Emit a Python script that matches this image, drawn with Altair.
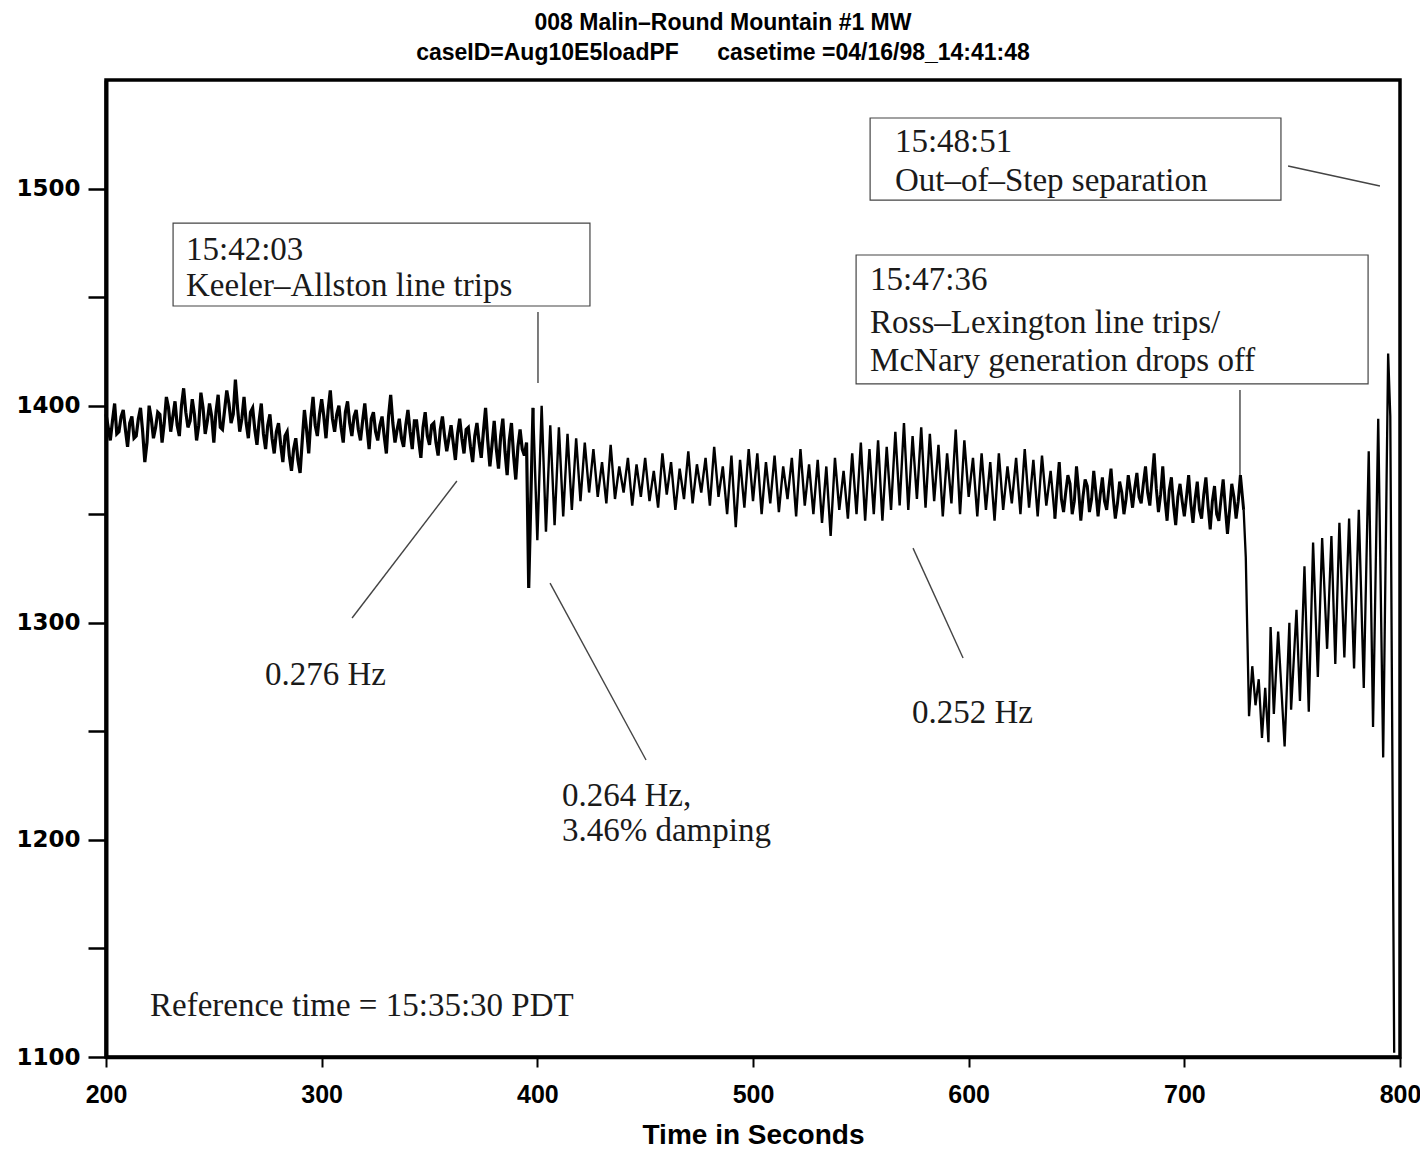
import altair as alt
import pandas as pd

# ---------------- data ----------------
T0 = 200          # first sample time (s)
DT = 2            # sample spacing for the pre-disturbance record (s)
MW_MAIN = [
    1396, 1384, 1401, 1388, 1398, 1381, 1395, 1386, 1399, 1374,
    1400, 1385, 1397, 1383, 1404, 1388, 1402, 1386, 1408, 1390,
    1403, 1384, 1406, 1387, 1401, 1383, 1405, 1389, 1407, 1392,
    1412, 1388, 1404, 1385, 1399, 1382, 1401, 1380, 1396, 1378,
    1392, 1374, 1388, 1370, 1385, 1369, 1398, 1378, 1404, 1386,
    1403, 1385, 1407, 1388, 1400, 1383, 1402, 1386, 1398, 1384,
    1401, 1380, 1397, 1384, 1395, 1378, 1405, 1383, 1394, 1381,
    1398, 1380, 1393, 1376, 1397, 1382, 1392, 1377, 1395, 1379,
    1391, 1375, 1394, 1378, 1390, 1374, 1392, 1376, 1399, 1372,
    1393, 1371, 1394, 1368, 1392, 1366, 1389, 1377, 1316, 1399,
    1338, 1400, 1342, 1391, 1345, 1390, 1349, 1387, 1352, 1385,
    1356, 1383, 1360, 1380, 1358, 1374, 1355, 1382, 1357, 1372,
    1360, 1376, 1354, 1373, 1358, 1376, 1356, 1370, 1353, 1378,
    1359, 1374, 1352, 1371, 1357, 1379, 1355, 1373, 1360, 1376,
    1354, 1381, 1358, 1372, 1350, 1377, 1344, 1375, 1353, 1380,
    1356, 1378, 1350, 1374, 1355, 1377, 1351, 1372, 1357, 1376,
    1349, 1380, 1354, 1373, 1350, 1375, 1346, 1372, 1340, 1376,
    1352, 1370, 1348, 1378, 1350, 1383, 1347, 1380, 1350, 1384,
    1347, 1381, 1352, 1388, 1354, 1392, 1352, 1386, 1357, 1390,
    1353, 1387, 1356, 1382, 1349, 1378, 1355, 1389, 1350, 1384,
    1358, 1376, 1349, 1378, 1352, 1374, 1347, 1378, 1352, 1372,
    1355, 1376, 1350, 1380, 1353, 1375, 1349, 1377, 1354, 1370,
    1348, 1374, 1351, 1368, 1350, 1372, 1347, 1366, 1351, 1370,
    1349, 1367, 1352, 1371, 1348, 1365, 1350, 1368, 1353, 1369,
    1355, 1372, 1354, 1378, 1351, 1372, 1347, 1367, 1345, 1364,
    1349, 1368, 1346, 1365, 1348, 1367, 1343, 1363, 1347, 1366,
    1341, 1364, 1348, 1368,
]
# in-between (odd second) readings of the noisy stretches
T_ODD_A0 = 201
MW_ODD_A = [
    1390, 1393, 1387, 1395, 1389, 1392, 1385, 1394, 1388, 1383,
    1394, 1390, 1396, 1392, 1399, 1395, 1391, 1400, 1397, 1393,
    1396, 1391, 1399, 1393, 1395, 1397, 1390, 1398, 1401, 1396,
    1399, 1394, 1392, 1397, 1389, 1393, 1387, 1391, 1385, 1388,
    1382, 1386, 1377, 1380, 1375, 1384, 1389, 1394, 1391, 1396,
    1395, 1398, 1394, 1396, 1390, 1397, 1392, 1395, 1389, 1393,
    1390, 1394, 1388, 1391, 1386, 1395, 1392, 1389, 1385, 1391,
    1388, 1393, 1384, 1390, 1386, 1391, 1383, 1389, 1386, 1385,
    1383, 1387, 1385, 1389, 1381, 1386, 1383, 1388, 1384, 1382,
    1380, 1386, 1379, 1384, 1377, 1381, 1380, 1383,
]
T_ODD_B0 = 641
MW_ODD_B = [
    1362, 1357, 1360, 1364, 1356, 1361, 1358, 1363, 1357, 1360,
    1359, 1356, 1362, 1358, 1355, 1360, 1357, 1361, 1362, 1358,
    1364, 1360, 1366, 1362, 1359, 1357, 1361, 1354, 1358, 1356,
    1358, 1355, 1357, 1352, 1359, 1354, 1356, 1350, 1357, 1353,
    1352, 1358, 1356,
]
T_TRANSIENT = [727.5, 728.5, 729.0, 730.0, 731.5, 733.0, 734.5, 736.0, 737.5,
               739.0, 740.0, 741.5, 743.5, 746.5, 748.7, 749.5, 752.0, 753.6,
               755.7, 757.7, 759.7, 761.9, 763.9, 766.2, 768.2, 770.0, 771.9,
               774.2, 776.4, 778.7, 780.9, 783.2, 785.5, 787.5, 789.9, 792.2,
               794.5, 795.5, 797.3]
MW_TRANSIENT = [1352, 1330, 1305, 1257, 1280, 1262, 1274, 1247, 1270,
                1245, 1298, 1258, 1296, 1243, 1300, 1260, 1306, 1264,
                1326, 1259, 1337, 1275, 1339, 1288, 1340, 1281, 1346,
                1284, 1348, 1279, 1352, 1270, 1379, 1252, 1394, 1238,
                1424, 1395, 1102]

# stretches of the trace and their ink weight (start, end, stroke width)
SEG_START = [200, 398, 640, 727.5]
SEG_END = [398, 640, 727.5, 800]
SEG_WIDTH = [3.2, 2.4, 3.0, 2.3]

# annotation boxes (data coordinates)
BOX_X1 = [231.1, 554.3, 547.8]
BOX_X2 = [424.4, 744.8, 785.2]
BOX_Y1 = [1484.1, 1532.5, 1469.4]
BOX_Y2 = [1445.9, 1494.7, 1410.0]

# annotation texts
TXT_LABEL = ["15:42:03", "Keeler\u2013Allston line trips",
             "15:48:51", "Out\u2013of\u2013Step separation",
             "15:47:36", "Ross\u2013Lexington line trips/", "McNary generation drops off",
             "0.276 Hz", "0.264 Hz,", "3.46% damping", "0.252 Hz",
             "Reference time = 15:35:30 PDT"]
TXT_X = [237.1, 237.1, 565.8, 565.8, 554.3, 554.3, 554.3,
         273.7, 411.4, 411.4, 573.7, 220.4]
TXT_Y = [1471.7, 1455.1, 1521.4, 1503.5, 1457.9, 1438.1, 1420.6,
         1275.9, 1220.2, 1204.1, 1258.4, 1123.5]

# leader lines
LEAD_X1 = [400.3, 748.1, 725.8, 314.1, 405.9, 574.2]
LEAD_Y1 = [1443.1, 1510.4, 1407.2, 1302.2, 1318.3, 1334.4]
LEAD_X2 = [400.3, 790.7, 725.8, 362.7, 450.4, 597.4]
LEAD_Y2 = [1410.4, 1501.2, 1368.1, 1365.3, 1236.8, 1283.8]

X_TICKS = [200, 300, 400, 500, 600, 700, 800]
Y_TICKS = [1100, 1150, 1200, 1250, 1300, 1350, 1400, 1450, 1500]

# ---------------- tables ----------------
times = ([T0 + DT * i for i in range(len(MW_MAIN))]
         + [T_ODD_A0 + 2 * i for i in range(len(MW_ODD_A))]
         + [T_ODD_B0 + 2 * i for i in range(len(MW_ODD_B))]
         + T_TRANSIENT)
values = MW_MAIN + MW_ODD_A + MW_ODD_B + MW_TRANSIENT
full = pd.DataFrame({"t": times, "mw": values}).sort_values("t").reset_index(drop=True)

parts = []
for k, (a, b, w) in enumerate(zip(SEG_START, SEG_END, SEG_WIDTH)):
    p = full[(full["t"] >= a) & (full["t"] <= b)].copy()
    p["seg"] = k
    p["w"] = w
    parts.append(p)
signal = pd.concat(parts, ignore_index=True)

boxes = pd.DataFrame({"x": BOX_X1, "x2": BOX_X2, "y": BOX_Y1, "y2": BOX_Y2})
texts = pd.DataFrame({"x": TXT_X, "y": TXT_Y, "label": TXT_LABEL})
leads = pd.DataFrame({"x": LEAD_X1, "x2": LEAD_X2, "y": LEAD_Y1, "y2": LEAD_Y2})

xs = alt.Scale(domain=[200, 800], nice=False, zero=False)
ys = alt.Scale(domain=[1100, 1550], nice=False, zero=False)

x_axis = alt.Axis(values=X_TICKS, title="Time in Seconds", grid=False,
                  tickSize=10, tickWidth=2, tickColor="black",
                  domainColor="black", domainWidth=3.5,
                  labelFont="Liberation Sans", labelFontWeight="bold",
                  labelFontSize=25, labelColor="black", labelPadding=15,
                  labelFlush=False,
                  titleFont="Liberation Sans", titleFontWeight="bold",
                  titleFontSize=28, titleColor="black", titlePadding=14)
y_axis = alt.Axis(values=Y_TICKS, title=None, grid=False,
                  labelExpr="datum.value % 100 == 0 ? datum.label : ''",
                  format="d",
                  tickSize=18, tickWidth=2.5, tickColor="black",
                  domainColor="black", domainWidth=4,
                  labelFont="DejaVu Sans", labelFontWeight="bold",
                  labelFontSize=23, labelColor="black", labelPadding=8,
                  labelFlush=False)

line = alt.Chart(signal).mark_line(color="black", strokeJoin="miter").encode(
    x=alt.X("t:Q", scale=xs, axis=x_axis),
    y=alt.Y("mw:Q", scale=ys, axis=y_axis),
    detail="seg:N",
    size=alt.Size("w:Q", scale=None, legend=None),
    order="t:Q",
)

rects = alt.Chart(boxes).mark_rect(fill="white", stroke="#444444",
                                   strokeWidth=1.2).encode(
    x="x:Q", x2="x2:Q", y="y:Q", y2="y2:Q")

rules = alt.Chart(leads).mark_rule(color="#444444", strokeWidth=1.4).encode(
    x="x:Q", x2="x2:Q", y="y:Q", y2="y2:Q")

labels = alt.Chart(texts).mark_text(align="left", baseline="middle",
                                    font="Liberation Serif", fontSize=33,
                                    color="#1a1a1a").encode(
    x="x:Q", y="y:Q", text="label:N")

chart = alt.layer(line, rules, rects, labels).properties(
    width=1294, height=977,
    title=alt.TitleParams(
        text="008 Malin\u2013Round Mountain #1 MW",
        subtitle="caseID=Aug10E5loadPF\u00a0\u00a0\u00a0\u00a0\u00a0\u00a0casetime =04/16/98_14:41:48",
        font="Liberation Sans", fontSize=23, fontWeight="bold", color="black",
        subtitleFont="Liberation Sans", subtitleFontSize=23,
        subtitleFontWeight="bold", subtitleColor="black",
        subtitlePadding=7, offset=15, anchor="middle", dx=-30),
    autosize=alt.AutoSizeParams(type="none"),
    padding={"left": 98, "top": 72, "right": 20, "bottom": 100},
).configure_view(stroke="black", strokeWidth=3.5)

chart.save("out.html", embed_options={"renderer": "svg", "actions": False})
